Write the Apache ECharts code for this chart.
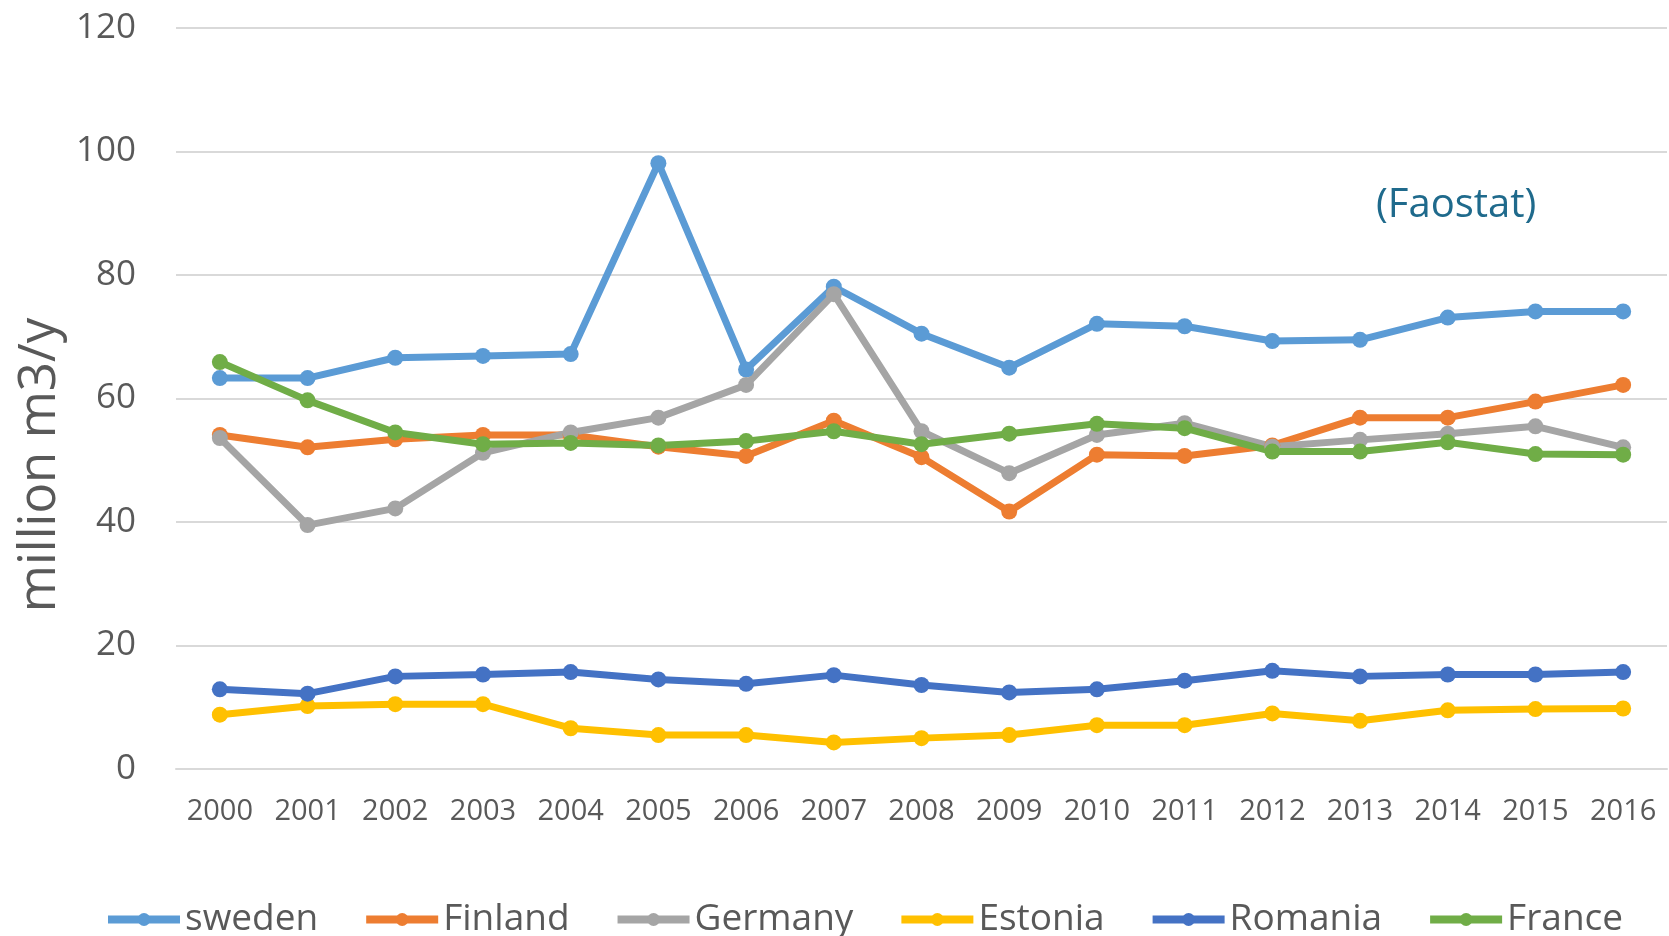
<!DOCTYPE html>
<html>
<head>
<meta charset="utf-8">
<script src="https://cdn.jsdelivr.net/npm/echarts@6/dist/echarts.min.js"></script>
<style>
html,body{margin:0;padding:0;background:#fff;}
#chart{width:1669px;height:936px;}
</style>
</head>
<body>
<div id="chart"></div>
<script>
const years = ['2000','2001','2002','2003','2004','2005','2006','2007','2008','2009','2010','2011','2012','2013','2014','2015','2016'];
const sweden  = [63.3,63.3,66.6,66.9,67.2,98.1,64.7,78.1,70.5,65.0,72.1,71.7,69.3,69.5,73.1,74.1,74.1];
const finland = [54.1,52.1,53.4,54.1,54.1,52.2,50.7,56.4,50.5,41.7,50.9,50.7,52.4,56.9,56.9,59.5,62.2];
const germany = [53.6,39.5,42.2,51.2,54.5,56.9,62.2,76.9,54.7,47.9,54.1,56.0,52.2,53.3,54.3,55.5,52.1];
const estonia = [8.8,10.2,10.5,10.5,6.6,5.5,5.5,4.3,5.0,5.5,7.1,7.1,9.0,7.8,9.5,9.7,9.8];
const romania = [12.9,12.2,15.0,15.3,15.7,14.5,13.8,15.2,13.6,12.4,12.9,14.3,15.9,15.0,15.3,15.3,15.7];
const france  = [65.9,59.7,54.5,52.6,52.8,52.4,53.1,54.7,52.6,54.3,55.9,55.2,51.4,51.4,52.9,51.0,50.9];
const seriesNames = ['sweden','Finland','Germany','Estonia','Romania','France'];
const seriesData = [sweden, finland, germany, estonia, romania, france];
const colors = ['#5B9BD5','#ED7D31','#A5A5A5','#FFC000','#4472C4','#70AD47'];
const yTicks = {min:0, max:120, interval:20};
const yAxisName = 'million m3/y';
const sourceNote = '(Faostat)';

const chart = echarts.init(document.getElementById('chart'));
const font = '"Open Sans", "DejaVu Sans", sans-serif';
chart.setOption({
  animation:false,
  backgroundColor:'#ffffff',
  color: colors,
  textStyle:{fontFamily:font},
  grid:{left:176, right:2, top:28, bottom:167, containLabel:false},
  xAxis:{
    type:'category', data:years, boundaryGap:true,
    axisLine:{show:true, lineStyle:{color:'#d9d9d9', width:2}},
    axisTick:{show:false},
    axisLabel:{color:'#595959', fontSize:29, margin:28, fontFamily:font}
  },
  yAxis:{
    type:'value', min:yTicks.min, max:yTicks.max, interval:yTicks.interval,
    axisLine:{show:false}, axisTick:{show:false},
    axisLabel:{color:'#595959', fontSize:35, margin:40, fontFamily:font},
    splitLine:{lineStyle:{color:'#d9d9d9', width:2}}
  },
  legend:{
    data:seriesNames, left:99, top:896, itemWidth:72, itemHeight:16, itemGap:44,
    lineStyle:{width:8},
    textStyle:{color:'#595959', fontSize:37, fontFamily:font}
  },
  graphic:[{
    type:'text', left:1376, top:186,
    style:{text:sourceNote, fill:'#1f6a8c', font:'40px "Open Sans", sans-serif'}
  },{
    type:'text', x:40, y:465, rotation:Math.PI/2,
    style:{text:yAxisName, fill:'#595959', font:'51px "Open Sans", sans-serif', align:'center', verticalAlign:'middle'}
  }],
  series: seriesNames.map((n,i)=>({
    name:n, type:'line', data:seriesData[i],
    symbol:'circle', symbolSize:16,
    lineStyle:{width:7, color:colors[i]},
    itemStyle:{color:colors[i]}
  }))
});
</script>
</body>
</html>
